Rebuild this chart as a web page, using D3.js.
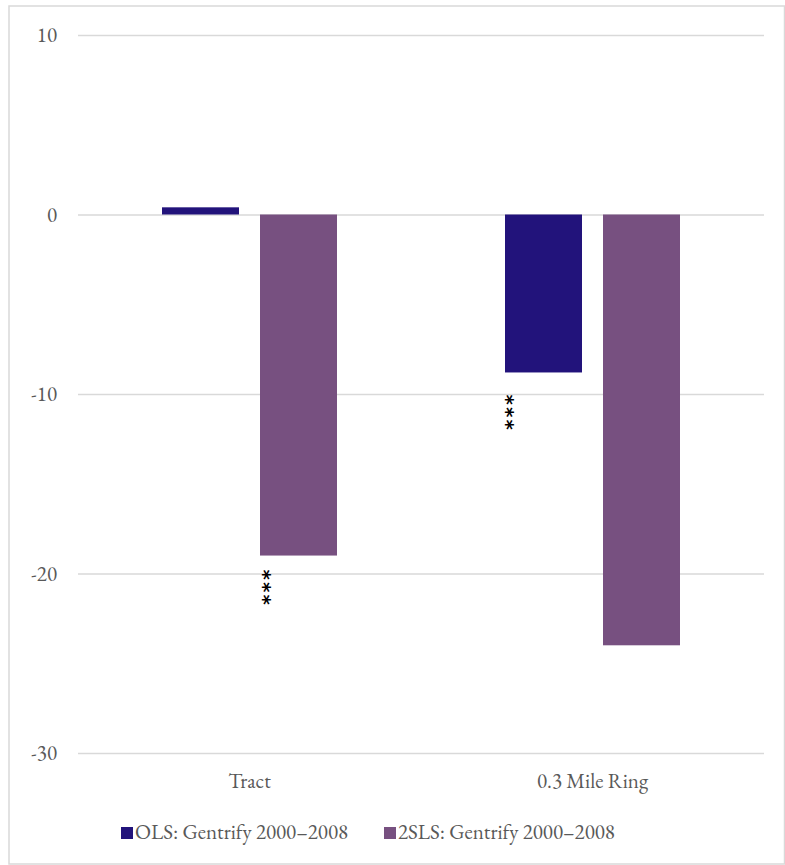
<!DOCTYPE html>
<html><head><meta charset="utf-8">
<script src="https://cdn.jsdelivr.net/npm/d3@7"></script>
<style>html,body{margin:0;padding:0;background:#fff;}svg{display:block;}</style>
</head><body>
<svg id="chart" width="785" height="865"></svg>
<script>
const categories = ["Tract", "0.3 Mile Ring"];
const seriesNames = ["OLS: Gentrify 2000–2008", "2SLS: Gentrify 2000–2008"];
const olsValues = [0.4, -8.8];
const slsValues = [-19.0, -24.0];
const significance = [["", "***"], ["***", ""]]; // per category: [ols, 2sls]
const yTicks = [10, 0, -10, -20, -30];
const colors = ["#22137B", "#775080"];
// label nudges (style only): [dx, dy] from bar's left/end
const starNudge = [[[0, 0], [8, 14]], [[6, 22], [0, 0]]];

const FONT = '"EB Garamond", "Liberation Serif", serif';
const FS = "21px";
const svg = d3.select("#chart");
const W = 785, H = 865;
svg.append("rect").attr("x", 9).attr("y", 6).attr("width", W - 9.5).attr("height", H - 7)
  .attr("fill", "#fff").attr("stroke", "#d9d9d9").attr("stroke-width", 1.5);

const plot = {left: 78, right: 764, top: 35, bottom: 753};
const y = d3.scaleLinear().domain([-30, 10]).range([plot.bottom, plot.top]);
const x0 = d3.scaleBand().domain(categories).range([plot.left, plot.right]);
const x1 = d3.scaleBand().domain([0, 1]).range([84, 259]).paddingInner(0.2143).paddingOuter(0);

const textColor = "#595959";

// gridlines
const yAxis = d3.axisLeft(y).tickValues(yTicks).tickSize(-(plot.right - plot.left)).tickFormat(d3.format("d"));
const gy = svg.append("g").attr("transform", `translate(${plot.left},0)`).call(yAxis);
gy.select(".domain").remove();
gy.selectAll(".tick line").attr("stroke", "#d9d9d9").attr("stroke-width", 1.5);
gy.selectAll(".tick text").attr("x", -21).attr("fill", textColor)
  .style("font-family", FONT).style("font-size", FS).text(d => d < 0 ? "-" + Math.abs(d) : d);

const data = categories.map((c, i) => ({cat: c, vals: [olsValues[i], slsValues[i]], sig: significance[i], nudge: starNudge[i]}));

const groups = svg.append("g").selectAll("g").data(data).join("g")
  .attr("transform", d => `translate(${x0(d.cat)},0)`);
groups.selectAll("rect").data(d => d.vals.map((v, k) => ({v, k}))).join("rect")
  .attr("x", d => x1(d.k)).attr("width", x1.bandwidth())
  .attr("y", d => y(Math.max(0, d.v))).attr("height", d => Math.abs(y(d.v) - y(0)))
  .attr("fill", d => colors[d.k]);

// significance stars (vertical text, rotated)
groups.each(function(d) {
  const g = d3.select(this);
  d.sig.forEach((s, k) => {
    if (!s) return;
    const cx = x1(k) + d.nudge[k][0];
    const top = y(d.vals[k]) + d.nudge[k][1];
    g.append("text").attr("transform", `translate(${cx - 11},${top}) rotate(90)`)
      .attr("fill", "#000").attr("letter-spacing", "2px")
      .style("font-family", "'DejaVu Sans', sans-serif").style("font-size", "20px").style("font-weight", "bold")
      .text(s);
  });
});

// category labels
svg.append("g").selectAll("text").data(categories).join("text")
  .attr("x", d => x0(d) + x0.bandwidth() / 2).attr("y", 788)
  .attr("text-anchor", "middle").attr("fill", textColor)
  .style("font-family", FONT).style("font-size", FS).text(d => d);

// legend
const legendX = [121, 384];
const lg = svg.append("g").selectAll("g").data(seriesNames).join("g")
  .attr("transform", (d, i) => `translate(${legendX[i]},0)`);
lg.append("rect").attr("x", 0).attr("y", 827).attr("width", 12).attr("height", 12).attr("fill", (d, i) => colors[i]);
lg.append("text").attr("x", 14).attr("y", 839).attr("fill", textColor)
  .style("font-family", FONT).style("font-size", FS).text(d => d);
</script>
</body></html>
